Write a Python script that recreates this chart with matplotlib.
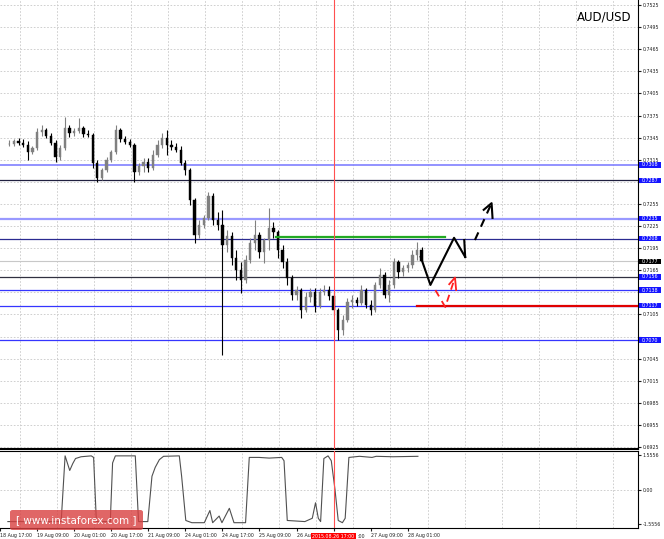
import numpy as np
import matplotlib.pyplot as plt
import matplotlib.transforms as mtransforms
from matplotlib.patches import Rectangle, FancyBboxPatch

plt.rcParams['font.family'] = ['DejaVu Sans']

# H2 bars, x = bar index (0 = 18 Aug 17:00)
bar_idx = list(range(2, 92))
opens = [0.7336, 0.7336, 0.7340, 0.7338, 0.7335, 0.7326, 0.7331, 0.7353, 0.7355, 0.7347,
         0.7338, 0.7319, 0.7331, 0.7358, 0.7351, 0.7354, 0.7358, 0.7350, 0.7349, 0.7311,
         0.7290, 0.7301, 0.7315, 0.7326, 0.7355, 0.7343, 0.7339, 0.7335, 0.7298, 0.7307,
         0.7312, 0.7304, 0.7321, 0.7335, 0.7345, 0.7335, 0.7332, 0.7328, 0.7311, 0.7301,
         0.7260, 0.7213, 0.7226, 0.7236, 0.7266, 0.7233, 0.7226, 0.7199, 0.7212, 0.7182,
         0.7165, 0.7152, 0.7179, 0.7202, 0.7213, 0.7190, 0.7206, 0.7222, 0.7217, 0.7193,
         0.7176, 0.7155, 0.7131, 0.7138, 0.7111, 0.7129, 0.7135, 0.7116, 0.7135, 0.7138,
         0.7130, 0.7111, 0.7084, 0.7097, 0.7122, 0.7125, 0.7121, 0.7138, 0.7118, 0.7111,
         0.7145, 0.7159, 0.7131, 0.7145, 0.7176, 0.7163, 0.7168, 0.7172, 0.7186, 0.7193]
highs = [0.7342, 0.7343, 0.7345, 0.7343, 0.7340, 0.7334, 0.7358, 0.7362, 0.7358, 0.7351,
         0.7342, 0.7335, 0.7373, 0.7362, 0.7358, 0.7372, 0.7361, 0.7355, 0.7351, 0.7315,
         0.7304, 0.7319, 0.7328, 0.7362, 0.7358, 0.7347, 0.7343, 0.7338, 0.7311, 0.7317,
         0.7317, 0.7328, 0.7342, 0.7351, 0.7355, 0.7342, 0.7338, 0.7334, 0.7315, 0.7304,
         0.7263, 0.7233, 0.7240, 0.7271, 0.7270, 0.7244, 0.7247, 0.7220, 0.7217, 0.7193,
         0.7176, 0.7186, 0.7209, 0.7233, 0.7217, 0.7209, 0.7250, 0.7231, 0.7220, 0.7199,
         0.7182, 0.7159, 0.7144, 0.7141, 0.7135, 0.7141, 0.7141, 0.7141, 0.7145, 0.7144,
         0.7135, 0.7114, 0.7104, 0.7127, 0.7131, 0.7129, 0.7145, 0.7141, 0.7125, 0.7149,
         0.7168, 0.7163, 0.7152, 0.7182, 0.7179, 0.7172, 0.7176, 0.7193, 0.7203, 0.7196]
lows = [0.7334, 0.7334, 0.7335, 0.7332, 0.7315, 0.7323, 0.7328, 0.7347, 0.7345, 0.7335,
        0.7312, 0.7315, 0.7328, 0.7346, 0.7347, 0.7351, 0.7346, 0.7346, 0.7304, 0.7285,
        0.7288, 0.7298, 0.7312, 0.7323, 0.7339, 0.7336, 0.7332, 0.7285, 0.7294, 0.7298,
        0.7298, 0.7301, 0.7319, 0.7331, 0.7321, 0.7328, 0.7326, 0.7308, 0.7294, 0.7254,
        0.7202, 0.7209, 0.7222, 0.7233, 0.7226, 0.7220, 0.7050, 0.7190, 0.7172, 0.7152,
        0.7134, 0.7148, 0.7175, 0.7193, 0.7182, 0.7175, 0.7193, 0.7209, 0.7182, 0.7168,
        0.7145, 0.7125, 0.7125, 0.7100, 0.7108, 0.7122, 0.7108, 0.7114, 0.7131, 0.7125,
        0.7104, 0.7070, 0.7077, 0.7095, 0.7114, 0.7116, 0.7118, 0.7114, 0.7104, 0.7108,
        0.7141, 0.7127, 0.7122, 0.7141, 0.7155, 0.7157, 0.7163, 0.7168, 0.7179, 0.7176]
closes = [0.7336, 0.7340, 0.7338, 0.7335, 0.7326, 0.7331, 0.7353, 0.7355, 0.7347, 0.7338,
          0.7319, 0.7331, 0.7358, 0.7351, 0.7354, 0.7358, 0.7350, 0.7349, 0.7311, 0.7290,
          0.7301, 0.7315, 0.7326, 0.7355, 0.7343, 0.7339, 0.7335, 0.7298, 0.7307, 0.7312,
          0.7304, 0.7321, 0.7335, 0.7345, 0.7335, 0.7332, 0.7328, 0.7311, 0.7301, 0.7260,
          0.7213, 0.7226, 0.7236, 0.7266, 0.7233, 0.7226, 0.7199, 0.7212, 0.7182, 0.7165,
          0.7152, 0.7179, 0.7202, 0.7213, 0.7190, 0.7206, 0.7222, 0.7217, 0.7193, 0.7176,
          0.7155, 0.7131, 0.7138, 0.7111, 0.7129, 0.7135, 0.7116, 0.7135, 0.7138, 0.7130,
          0.7111, 0.7084, 0.7097, 0.7122, 0.7125, 0.7121, 0.7138, 0.7118, 0.7111, 0.7145,
          0.7159, 0.7131, 0.7145, 0.7176, 0.7163, 0.7168, 0.7172, 0.7186, 0.7193, 0.7177]

# indicator (oscillator) trace
ind_x = [1.7, 13.2, 14.05, 15.05, 15.7, 16.3, 17.5, 19.7, 20.2, 20.8, 23.8, 24.3, 24.9,
         29.2, 29.9, 31.9, 32.8, 33.5, 34.4, 35.3, 38.7, 39.2, 40.1, 41.4, 44.1, 45.3,
         45.9, 47.3, 47.9, 49.5, 50.5, 53.0, 53.8, 55.9, 58.1, 60.8, 61.3, 62.0, 65.8,
         67.4, 68.1, 68.7, 69.2, 69.9, 70.8, 71.5, 72.3, 73.0, 73.9, 74.5, 75.3, 77.6,
         80.3, 81.2, 84.8, 90.2]
ind_y = [-1.45, -1.45, 1.52, 0.86, 1.17, 1.40, 1.48, 1.52, 1.45, -1.45, -1.45, 1.2, 1.52,
         1.52, -1.45, -1.45, 0.6, 1.0, 1.35, 1.5, 1.52, 0.6, -1.4, -1.5, -1.5, -0.95,
         -1.5, -1.2, -1.5, -0.85, -1.5, -1.5, 1.45, 1.45, 1.42, 1.45, 1.3, -1.4, -1.45,
         -1.3, -0.6, -1.3, -1.45, 1.4, 1.52, 1.3, 0.0, -1.4, -1.5, -1.3, 1.45, 1.5,
         1.45, 1.5, 1.48, 1.5]

# labels partly covered by the red cursor box are kept only as far as they show
time_ticks = [0, 8, 16, 24, 32, 40, 48, 56, 64, 72, 80, 88]
time_labels = ['18 Aug 17:00', '19 Aug 09:00', '20 Aug 01:00', '20 Aug 17:00', '21 Aug 09:00',
               '24 Aug 01:00', '24 Aug 17:00', '25 Aug 09:00', '26 Au', '',
               '27 Aug 09:00', '28 Aug 01:00']
cursor_bar = 72
cursor_label = '2015.08.26 17:00'

levels = [0.7308, 0.7287, 0.7235, 0.7208, 0.7156, 0.7138, 0.7117, 0.7070]
level_colors = ['#8080ff', '#202040', '#9999ff', '#2a2a90', '#303040', '#3535ff', '#3535ff', '#3535ff']
level_widths = [1.2, 0.9, 1.6, 0.9, 0.9, 0.9, 0.9, 0.9]
last_price = 0.7177

green_seg = ([59.6, 96.1], [0.7210, 0.7210])
red_seg = ([89.9, 140], [0.7117, 0.7117])

# forecast sketches
path_solid = ([90.8, 92.9, 98.0, 100.4], [0.7183, 0.7145, 0.7209, 0.7183])
head_solid = ([100.2, 100.4], [0.7206, 0.7183])
path_dash = ([102.5, 106.1], [0.7206, 0.7256])
head_dash = ([104.4, 106.1, 106.3], [0.7247, 0.7256, 0.7236])
path_red = ([93.97, 96.1, 98.2], [0.7138, 0.7115, 0.7155])
head_red = ([96.96, 98.2, 98.45], [0.7146, 0.7155, 0.7138])

W, H = 664, 539
fig = plt.figure(figsize=(W / 100, H / 100), dpi=100)
ax = fig.add_axes([0, 90 / H, 638 / W, 449 / H])
axi = fig.add_axes([0, 11 / H, 638 / W, 77 / H], sharex=ax)

xmin, xmax = 1.6, 137.7
ax.set_xlim(xmin, xmax)
ax.set_ylim(0.69223, 0.75318)

grid_kw = dict(color='#c8c8c8', lw=0.6, ls=(0, (2, 2)))
yt = np.round(np.arange(0.6925, 0.7526, 0.003), 4)
for v in yt:
    ax.axhline(v, zorder=0, **grid_kw)
grid_x = np.arange(4.27, xmax, 8)
for g in grid_x:
    ax.axvline(g, zorder=0, **grid_kw)
    axi.axvline(g, zorder=0, **grid_kw)
axi.axhline(0, zorder=0, **grid_kw)

# horizontal levels
for p, c, lw in zip(levels, level_colors, level_widths):
    ax.axhline(p, color=c, lw=lw, zorder=1)
ax.axhline(last_price, color='#c8c8c8', lw=0.8, zorder=1)

# candles
o = np.array(opens); h = np.array(highs); l = np.array(lows); c = np.array(closes)
x = np.array(bar_idx)
up = c >= o
col = np.where(up, '#808080', '#000000')
ax.vlines(x, l, h, colors=col, lw=0.8, zorder=3)
ax.bar(x, np.maximum(np.abs(c - o), 0.00004), bottom=np.minimum(o, c), width=0.5,
       color=col, edgecolor=col, lw=0.3, zorder=4)

ax.plot(*green_seg, color='#22aa22', lw=1.6, zorder=5)
ax.plot(*red_seg, color='#e00000', lw=1.6, zorder=5)

ax.plot(*path_solid, color='black', lw=1.5, zorder=6)
ax.plot(*head_solid, color='black', lw=1.5, zorder=6)
ax.plot(*path_dash, color='black', lw=1.5, ls=(0, (4, 3)), zorder=6)
ax.plot(*head_dash, color='black', lw=1.5, zorder=6)
ax.plot(*path_red, color='#ff2020', lw=1.3, ls=(0, (4, 3)), zorder=6)
ax.plot(*head_red, color='#ff2020', lw=1.3, zorder=6)

for a in (ax, axi):
    a.axvline(cursor_bar, color='#ff5050', lw=0.8, zorder=7)

# right price scale; tick labels hidden under level boxes are left blank
ax.yaxis.tick_right()
ax.set_yticks(yt)
tick_text = []
for v in yt:
    near = min(abs(v - p) for p in levels + [last_price])
    tick_text.append('' if near < 0.00055 else f'{v:.4f}')
ax.set_yticklabels(tick_text)
ax.tick_params(axis='y', labelsize=3.4, length=2, pad=1.5, colors='#202020')
ax.tick_params(axis='x', bottom=False, labelbottom=False)
for s in ('left', 'top'):
    ax.spines[s].set_visible(False)
ax.spines['right'].set_linewidth(0.8)
ax.spines['bottom'].set_linewidth(1.5)

trans = mtransforms.blended_transform_factory(ax.transAxes, ax.transData)
for p in levels + [last_price]:
    bg = '#000000' if p == last_price else '#1515ff'
    ax.add_patch(Rectangle((1.0016, p - 0.00037), 0.0345, 0.00074, transform=trans,
                           facecolor=bg, edgecolor='none', clip_on=False, zorder=10))
    ax.text(1.019, p, f'{p:.4f}', transform=trans, fontsize=3.4, color='white',
            ha='center', va='center', clip_on=False, zorder=11)

ax.text(0.99, 0.963, 'AUD/USD', transform=ax.transAxes, fontsize=8.5, ha='right',
        va='center', color='black')

# indicator panel
axi.plot(ind_x, ind_y, color='#505050', lw=0.8, zorder=3)
axi.set_ylim(-1.74, 1.74)
axi.yaxis.tick_right()
axi.set_yticks([1.5556, 0.0, -1.5556])
axi.set_yticklabels(['1.5556', '0.00', '-1.5556'])
axi.tick_params(axis='y', labelsize=3.4, length=2, pad=1.5, colors='#202020')
axi.spines['left'].set_visible(False)
for s in ('top', 'right', 'bottom'):
    axi.spines[s].set_linewidth(0.8)
axi.set_xticks(time_ticks)
axi.set_xticklabels(time_labels, ha='left')
axi.tick_params(axis='x', labelsize=3.4, length=2, pad=1.5, colors='#202020')

transi = mtransforms.blended_transform_factory(axi.transData, axi.transAxes)
axi.text(cursor_bar, -0.075, cursor_label, transform=transi, fontsize=3.4, color='white',
         ha='center', va='top', clip_on=False, zorder=12,
         bbox=dict(boxstyle='square,pad=0.25', fc='#ff0000', ec='none'))
# tail of the '26 Aug 17:00' label peeking out from under the red box
axi.text(cursor_bar + 5.1, -0.075, ':00', transform=transi, fontsize=3.4, color='#202020',
         ha='left', va='top', clip_on=False)

# watermark
logo = FancyBboxPatch((10 / W, 9 / H), 133 / W, 20 / H, boxstyle='round,pad=0,rounding_size=0.004',
                      transform=fig.transFigure, facecolor='#d94040', alpha=0.8,
                      edgecolor='none', zorder=20)
fig.patches.append(logo)
fig.text(76 / W, 19 / H, '[ www.instaforex.com ]', color='white', fontsize=7.5,
         ha='center', va='center', zorder=21)

fig.savefig('out.png', dpi=100)
